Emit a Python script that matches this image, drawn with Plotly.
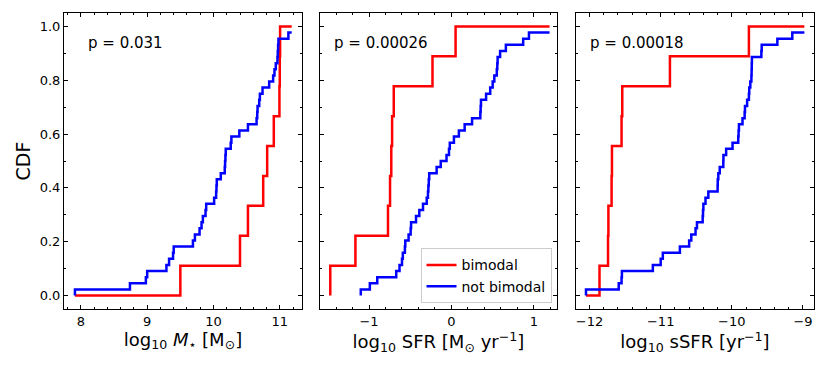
import plotly.graph_objects as go
from plotly.subplots import make_subplots

# CDF step positions (sorted values per sample)
mass_bimodal = [9.50, 10.40, 10.52, 10.75, 10.81, 10.91, 10.995, 11.00, 11.005]
mass_not_bimodal = [7.91, 8.74, 8.98, 9.00, 9.29, 9.33, 9.39, 9.40, 9.69, 9.72,
                    9.79, 9.82, 9.84, 9.88, 9.89, 10.01, 10.04, 10.045, 10.05, 10.11,
                    10.17, 10.175, 10.18, 10.185, 10.26, 10.27, 10.39, 10.52, 10.65, 10.66,
                    10.665, 10.69, 10.70, 10.74, 10.84, 10.90, 10.92, 10.94, 10.965, 10.97,
                    10.975, 10.98, 11.13]
mass_end = 11.18

sfr_bimodal = [-1.47, -1.165, -0.77, -0.745, -0.73, -0.72, -0.70, -0.23, 0.05]
sfr_not_bimodal = [-1.10, -0.99, -0.90, -0.67, -0.63, -0.60, -0.59, -0.565, -0.56, -0.52,
                   -0.495, -0.49, -0.43, -0.39, -0.345, -0.30, -0.285, -0.28, -0.275, -0.27,
                   -0.18, -0.13, -0.06, -0.03, -0.02, 0.03, 0.09, 0.16, 0.25, 0.35,
                   0.354, 0.358, 0.42, 0.47, 0.50, 0.52, 0.55, 0.556, 0.56, 0.59,
                   0.66, 0.87, 0.94]
sfr_end = 1.19

ssfr_bimodal = [-11.86, -11.74, -11.735, -11.69, -11.685, -11.55, -11.54, -10.87, -9.76]
ssfr_not_bimodal = [-12.05, -11.59, -11.55, -11.545, -11.11, -11.0, -10.97, -10.73, -10.60, -10.57,
                    -10.51, -10.49, -10.41, -10.405, -10.40, -10.37, -10.33, -10.20, -10.198, -10.19,
                    -10.17, -10.12, -10.118, -10.08, -9.99, -9.91, -9.905, -9.90, -9.85, -9.82,
                    -9.815, -9.785, -9.76, -9.755, -9.74, -9.725, -9.722, -9.72, -9.718, -9.585,
                    -9.58, -9.36, -9.15]
ssfr_end = -8.98

n_bimodal = 9
n_not_bimodal = 44

p_values = ["p = 0.031", "p = 0.00026", "p = 0.00018"]
x_titles = ["log<sub>10</sub> <i>M</i><sub>⋆</sub> [M<sub>⊙</sub>]",
            "log<sub>10</sub> SFR [M<sub>⊙</sub> yr<sup>−1</sup>]",
            "log<sub>10</sub> sSFR [yr<sup>−1</sup>]"]

panels = [
    (mass_bimodal, mass_not_bimodal, mass_end, [7.745, 11.335]),
    (sfr_bimodal, sfr_not_bimodal, sfr_end, [-1.595, 1.28]),
    (ssfr_bimodal, ssfr_not_bimodal, ssfr_end, [-12.19, -8.845]),
]


def step_path(vals, n, start, end):
    # path of the empirical CDF, drawn with line_shape 'hv'
    xs = [start] + list(vals) + [end]
    ys = [0] + [(i + 1) / n for i in range(len(vals))] + [len(vals) / n]
    return xs, ys


fig = make_subplots(rows=1, cols=3, shared_yaxes=True)
FONT = "DejaVu Sans, sans-serif"

for i, (red_vals, blue_vals, x_end, xr) in enumerate(panels):
    col = i + 1
    start = min(min(red_vals), min(blue_vals))
    xs, ys = step_path(red_vals, n_bimodal, start, x_end)
    fig.add_trace(go.Scatter(x=xs, y=ys, mode="lines", line_shape="hv",
                             line=dict(color="#ff0000", width=2.5),
                             name="bimodal", showlegend=(i == 1)), row=1, col=col)
    xs, ys = step_path(blue_vals, n_not_bimodal, min(blue_vals), x_end)
    fig.add_trace(go.Scatter(x=xs, y=ys, mode="lines", line_shape="hv",
                             line=dict(color="#0000ff", width=2.5),
                             name="not bimodal", showlegend=(i == 1)), row=1, col=col)

    fig.update_xaxes(range=xr, dtick=1, tick0=0, ticks="inside", ticklen=4, tickwidth=1,
                     tickcolor="black", showline=True, linecolor="black", linewidth=1,
                     mirror="allticks", showgrid=False, zeroline=False, automargin=False,
                     minor=dict(dtick=0.2, ticks="inside", ticklen=2, tickcolor="black", showgrid=False),
                     tickfont=dict(family=FONT, size=13, color="black"),
                     title=dict(text=x_titles[i], font=dict(family=FONT, size=18, color="black"), standoff=2),
                     row=1, col=col)
    fig.update_yaxes(range=[-0.05, 1.05], dtick=0.2, tick0=0, tickformat=".1f",
                     ticks="inside", ticklen=4, tickwidth=1, tickcolor="black",
                     showline=True, linecolor="black", linewidth=1, mirror="allticks",
                     showgrid=False, zeroline=False, showticklabels=(i == 0), automargin=False,
                     minor=dict(dtick=0.1, ticks="inside", ticklen=2, tickcolor="black", showgrid=False),
                     tickfont=dict(family=FONT, size=13, color="black"),
                     row=1, col=col)

fig.update_yaxes(title=dict(text="CDF", font=dict(family=FONT, size=19, color="black"), standoff=4),
                 row=1, col=1)

# panel positions (fractions of the plot area)
fig.update_layout(
    xaxis=dict(domain=[0, 0.3173]),
    xaxis2=dict(domain=[0.3413, 0.6573]),
    xaxis3=dict(domain=[0.6827, 1.0]),
)

for i, (txt, xpos) in enumerate(zip(p_values, [0.092, 0.05, 0.05])):
    ref = "x domain" if i == 0 else "x%d domain" % (i + 1)
    fig.add_annotation(xref=ref, yref="y domain", x=xpos, y=0.899, xanchor="left", yanchor="middle",
                       text=txt, showarrow=False, font=dict(family=FONT, size=15, color="black"))

# page body keeps an 8px margin, so the figure is 8px smaller than the window
fig.update_layout(
    width=822, height=361,
    margin=dict(l=56, r=16, t=5, b=60),
    plot_bgcolor="white", paper_bgcolor="white",
    font=dict(family=FONT, color="black"),
    legend=dict(x=0.650, y=0.019, xanchor="right", yanchor="bottom",
                bgcolor="white", bordercolor="#cccccc", borderwidth=1,
                font=dict(family=FONT, size=14, color="black"),
                tracegroupgap=0),
)

fig.write_html("out.html")
